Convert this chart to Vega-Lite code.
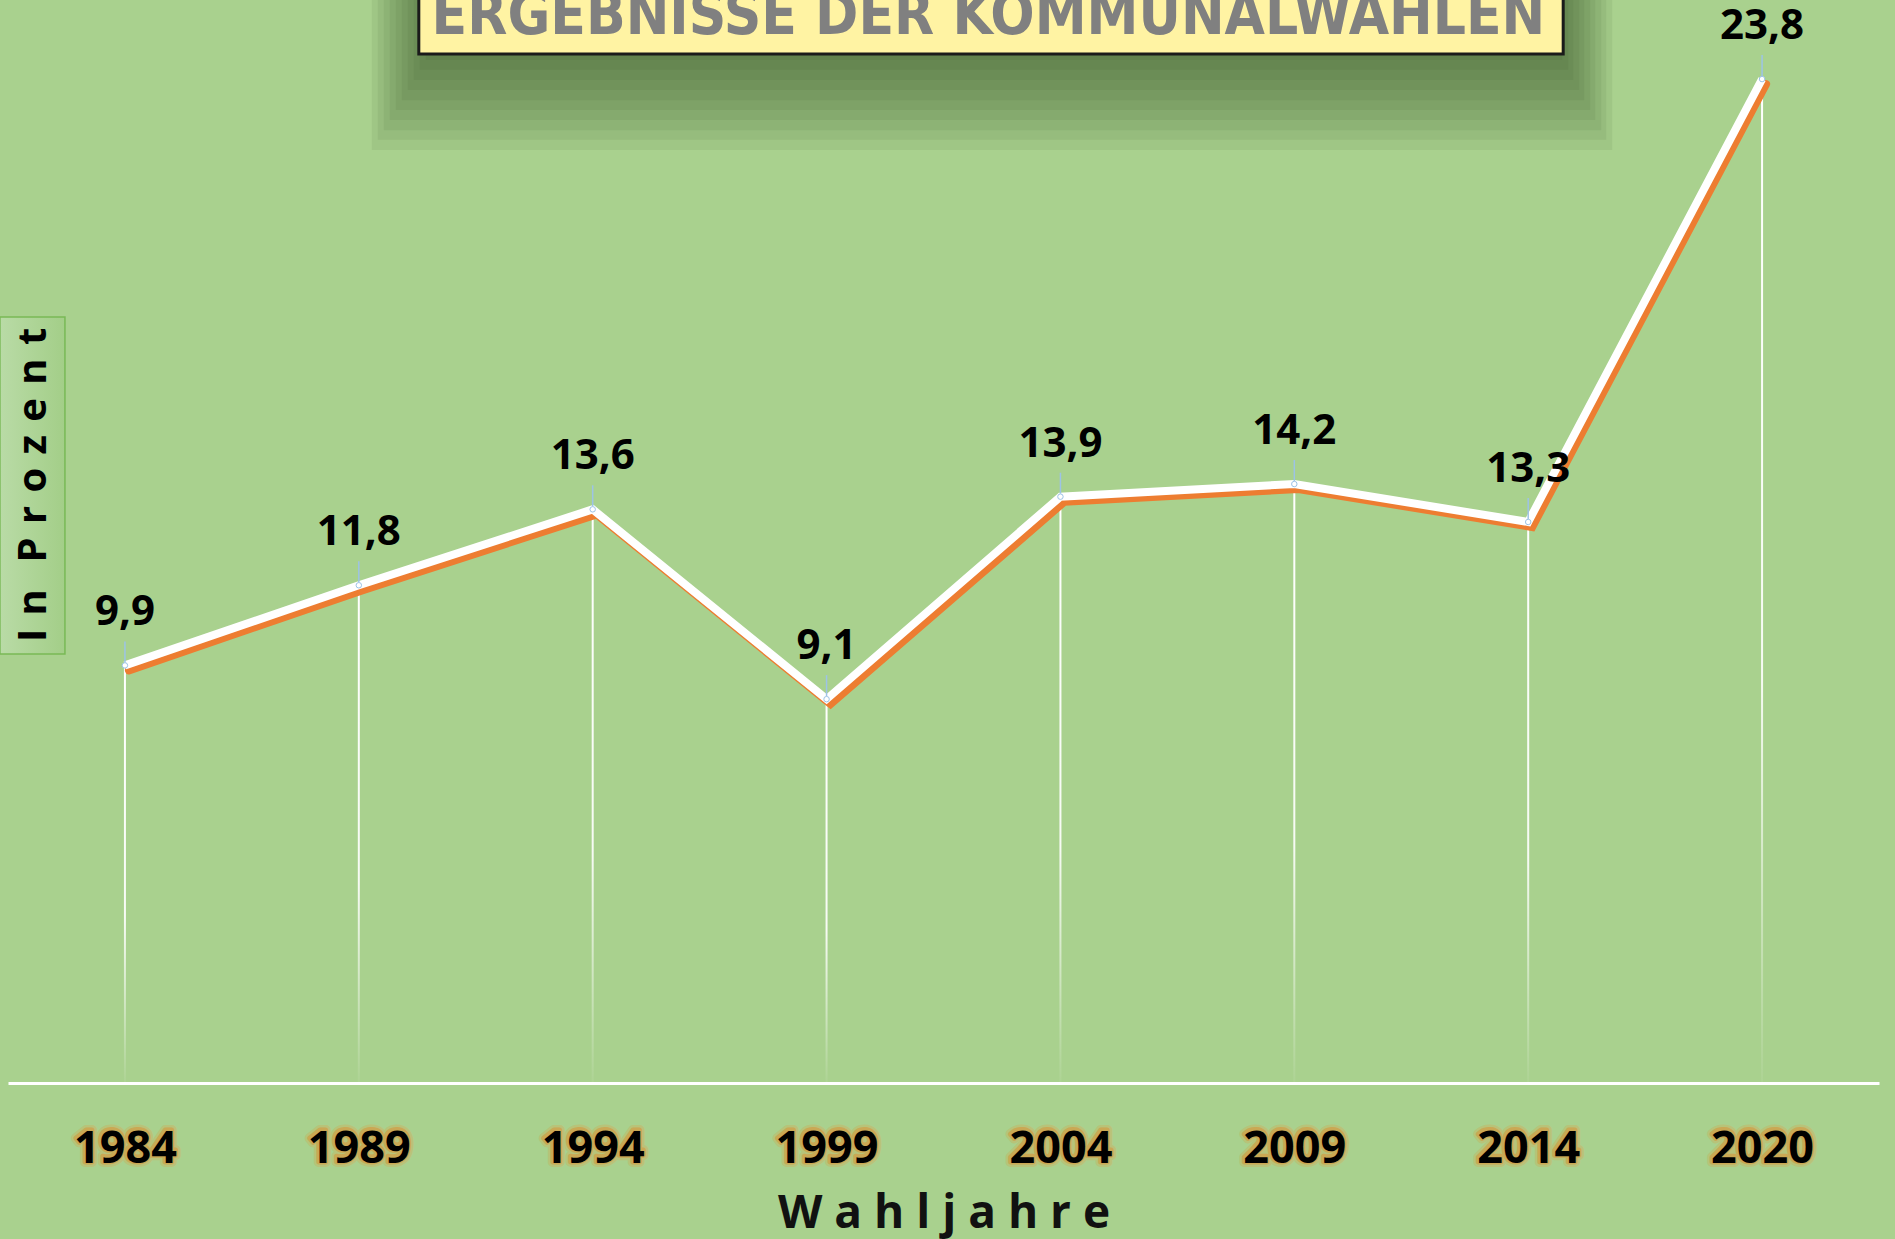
{
  "$schema": "https://vega.github.io/schema/vega-lite/v6.json",
  "width": 1871,
  "height": 1083,
  "autosize": "none",
  "padding": {"left": 8, "top": 0, "right": 16, "bottom": 156},
  "background": "#a9d18e",
  "config": {"view": {"stroke": null}},
  "data": {"values": [
    {"jahr": "1984", "wert": 9.9, "label": "9,9"},
    {"jahr": "1989", "wert": 11.8, "label": "11,8"},
    {"jahr": "1994", "wert": 13.6, "label": "13,6"},
    {"jahr": "1999", "wert": 9.1, "label": "9,1"},
    {"jahr": "2004", "wert": 13.9, "label": "13,9"},
    {"jahr": "2009", "wert": 14.2, "label": "14,2"},
    {"jahr": "2014", "wert": 13.3, "label": "13,3"},
    {"jahr": "2020", "wert": 23.8, "label": "23,8"}
  ]},
  "encoding": {
    "x": {"field": "jahr", "type": "ordinal", "sort": null,
          "scale": {"type": "point", "padding": 0.5, "domain": ["1984", "1989", "1994", "1999", "2004", "2009", "2014", "2020"]},
          "axis": {"zindex": 1, "domainColor": "#ffffff", "domainWidth": 3, "ticks": false, "tickSize": 0, "grid": false,
                   "labelAngle": 0, "labelFont": "Open Sans", "labelFontWeight": "bold", "labelFontSize": 45, "labelColor": "#000000",
                   "labelBaseline": "alphabetic", "labelPadding": 79,
                   "title": "W a h l j a h r e", "titleFont": "Open Sans", "titleFontWeight": "bold", "titleFontSize": 46, "titleColor": "#111111",
                   "titleBaseline": "alphabetic", "titleY": 144}},
    "y": {"field": "wert", "type": "quantitative", "scale": {"domain": [0, 25.675], "nice": false, "zero": true}, "axis": null}
  },
  "layer": [
    {"transform": [{"filter": "datum.jahr == '1984'"}],
     "mark": {"type": "rect", "color": "#2a4020", "opacity": 0.075, "xOffset": 13, "x2Offset": 84},
     "encoding": {"x": {"datum": "1989", "type": "ordinal"}, "x2": {"datum": "2014"}, "y": {"datum": 26, "type": "quantitative"}, "y2": {"datum": 22.12}}},
    {"transform": [{"filter": "datum.jahr == '1984'"}],
     "mark": {"type": "rect", "color": "#2a4020", "opacity": 0.075, "xOffset": 19, "x2Offset": 78},
     "encoding": {"x": {"datum": "1989", "type": "ordinal"}, "x2": {"datum": "2014"}, "y": {"datum": 26, "type": "quantitative"}, "y2": {"datum": 22.36}}},
    {"transform": [{"filter": "datum.jahr == '1984'"}],
     "mark": {"type": "rect", "color": "#2a4020", "opacity": 0.075, "xOffset": 25, "x2Offset": 73},
     "encoding": {"x": {"datum": "1989", "type": "ordinal"}, "x2": {"datum": "2014"}, "y": {"datum": 26, "type": "quantitative"}, "y2": {"datum": 22.59}}},
    {"transform": [{"filter": "datum.jahr == '1984'"}],
     "mark": {"type": "rect", "color": "#2a4020", "opacity": 0.075, "xOffset": 31, "x2Offset": 67},
     "encoding": {"x": {"datum": "1989", "type": "ordinal"}, "x2": {"datum": "2014"}, "y": {"datum": 26, "type": "quantitative"}, "y2": {"datum": 22.83}}},
    {"transform": [{"filter": "datum.jahr == '1984'"}],
     "mark": {"type": "rect", "color": "#2a4020", "opacity": 0.075, "xOffset": 37, "x2Offset": 62},
     "encoding": {"x": {"datum": "1989", "type": "ordinal"}, "x2": {"datum": "2014"}, "y": {"datum": 26, "type": "quantitative"}, "y2": {"datum": 23.07}}},
    {"transform": [{"filter": "datum.jahr == '1984'"}],
     "mark": {"type": "rect", "color": "#2a4020", "opacity": 0.075, "xOffset": 43, "x2Offset": 56},
     "encoding": {"x": {"datum": "1989", "type": "ordinal"}, "x2": {"datum": "2014"}, "y": {"datum": 26, "type": "quantitative"}, "y2": {"datum": 23.30}}},
    {"transform": [{"filter": "datum.jahr == '1984'"}],
     "mark": {"type": "rect", "color": "#2a4020", "opacity": 0.075, "xOffset": 49, "x2Offset": 51},
     "encoding": {"x": {"datum": "1989", "type": "ordinal"}, "x2": {"datum": "2014"}, "y": {"datum": 26, "type": "quantitative"}, "y2": {"datum": 23.54}}},
    {"transform": [{"filter": "datum.jahr == '1984'"}],
     "mark": {"type": "rect", "color": "#2a4020", "opacity": 0.075, "xOffset": 55, "x2Offset": 45},
     "encoding": {"x": {"datum": "1989", "type": "ordinal"}, "x2": {"datum": "2014"}, "y": {"datum": 26, "type": "quantitative"}, "y2": {"datum": 23.78}}},
    {"transform": [{"filter": "datum.jahr == '1984'"}],
     "mark": {"type": "rect", "color": "#2a4020", "opacity": 0.075, "xOffset": 61, "x2Offset": 40},
     "encoding": {"x": {"datum": "1989", "type": "ordinal"}, "x2": {"datum": "2014"}, "y": {"datum": 26, "type": "quantitative"}, "y2": {"datum": 24.02}}},
    {"transform": [{"filter": "datum.jahr == '1984'"}],
     "mark": {"type": "rect", "color": "#2a4020", "opacity": 0.075, "xOffset": 67, "x2Offset": 34},
     "encoding": {"x": {"datum": "1989", "type": "ordinal"}, "x2": {"datum": "2014"}, "y": {"datum": 26, "type": "quantitative"}, "y2": {"datum": 24.25}}},
    {"transform": [{"filter": "datum.jahr == '1984'"}],
     "mark": {"type": "rect", "fill": "#fff3a3", "stroke": "#1a1a1a", "strokeWidth": 3, "xOffset": 60, "x2Offset": 35},
     "encoding": {"x": {"datum": "1989", "type": "ordinal"}, "x2": {"datum": "2014"}, "y": {"datum": 26, "type": "quantitative"}, "y2": {"datum": 24.395}}},
    {"transform": [{"filter": "datum.jahr == '1984'"}],
     "mark": {"type": "text", "text": "ERGEBNISSE  DER KOMMUNALWAHLEN", "font": "DejaVu Sans Condensed", "fontWeight": "bold", "fontSize": 58, "color": "#808080", "align": "center", "baseline": "alphabetic", "xOffset": -72},
     "encoding": {"x": {"datum": "2004", "type": "ordinal"}, "y": {"datum": 24.87, "type": "quantitative"}}},
    {"transform": [{"filter": "datum.jahr == '1984'"}],
     "mark": {"type": "rect", "stroke": "#79b956", "strokeWidth": 1.5, "xOffset": -125, "x2Offset": -60,
              "fill": {"gradient": "linear", "x1": 0, "y1": 0, "x2": 1, "y2": 0,
                       "stops": [{"offset": 0, "color": "#b9dba6"}, {"offset": 1, "color": "#a3ce88"}]}},
     "encoding": {"x": {"datum": "1984", "type": "ordinal"}, "x2": {"datum": "1984"}, "y": {"datum": 18.16, "type": "quantitative"}, "y2": {"datum": 10.17}}},
    {"transform": [{"filter": "datum.jahr == '1984'"}],
     "mark": {"type": "text", "text": "I\u2004n\u2004\u2004P\u2004r\u2004o\u2004z\u2004e\u2004n\u2004t", "font": "Open Sans", "fontWeight": "bold", "fontSize": 40, "color": "#000000", "align": "center", "baseline": "middle", "angle": 270, "xOffset": -91},
     "encoding": {"x": {"datum": "1984", "type": "ordinal"}, "y": {"datum": 14.18, "type": "quantitative"}}},
    {"mark": {"type": "bar", "size": 2,
              "fill": {"gradient": "linear", "x1": 0, "y1": 0, "x2": 0, "y2": 1,
                       "stops": [{"offset": 0, "color": "#ffffff"}, {"offset": 0.6, "color": "rgba(255,255,255,0.9)"}, {"offset": 1, "color": "rgba(255,255,255,0.05)"}]}},
     "encoding": {"y2": {"datum": 0}}},
    {"mark": {"type": "line", "color": "#ed7d31", "strokeWidth": 8, "xOffset": 4, "yOffset": 5, "strokeCap": "round"}},
    {"mark": {"type": "line", "color": "#ffffff", "strokeWidth": 8, "strokeCap": "butt"}},
    {"mark": {"type": "point", "shape": "circle", "filled": true, "fill": "#ffffff", "stroke": "#9dc3e6", "strokeWidth": 1, "size": 30, "opacity": 1}},
    {"mark": {"type": "rule", "color": "#9dc3e6", "strokeWidth": 1.5, "yOffset": -3, "y2Offset": -24},
     "encoding": {"y2": {"field": "wert"}}},
    {"mark": {"type": "text", "font": "Open Sans", "fontWeight": "bold", "fontSize": 42, "color": "#000000", "align": "center", "baseline": "alphabetic", "dy": -40},
     "encoding": {"text": {"field": "label"}}},
    {"mark": {"type": "text", "font": "Open Sans", "fontWeight": "bold", "fontSize": 45, "fill": "#d4aa55", "stroke": "#d4aa55", "strokeWidth": 10, "strokeJoin": "round", "opacity": 0.35, "align": "center", "baseline": "alphabetic", "dy": 79},
     "encoding": {"text": {"field": "jahr"}, "y": {"datum": 0}}},
    {"mark": {"type": "text", "font": "Open Sans", "fontWeight": "bold", "fontSize": 45, "fill": "#cfa24c", "stroke": "#cfa24c", "strokeWidth": 5, "strokeJoin": "round", "opacity": 0.8, "align": "center", "baseline": "alphabetic", "dy": 79},
     "encoding": {"text": {"field": "jahr"}, "y": {"datum": 0}}}
  ]
}
